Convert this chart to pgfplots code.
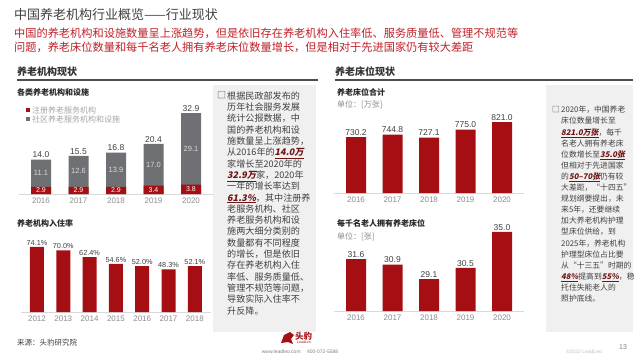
\documentclass[border=0pt]{standalone}
\usepackage{fontspec}
\usepackage{pgfplots}
\usepackage{pgfplotstable}
\pgfplotsset{compat=1.18}
\setmainfont{Noto Sans CJK SC}
\newfontfamily\numfont{Liberation Sans}
\newfontfamily\hlfont[FakeSlant=0.2]{Noto Sans CJK SC}
\newcommand\fs[1]{\fontsize{#1bp}{#1bp}\selectfont}
\definecolor{barred}{RGB}{165,15,20}
\definecolor{bargray}{RGB}{110,112,115}
\definecolor{subred}{RGB}{192,32,40}
\definecolor{txt}{RGB}{64,64,64}
\definecolor{tickgray}{RGB}{140,140,140}
\definecolor{boxgray}{RGB}{240,240,240}
\definecolor{hlred}{RGB}{110,20,20}
\newcommand\hl[1]{{\hlfont\bfseries\color{hlred}\underline{#1}}}

\pgfplotstableread{
x red tot rmid gmid rl gl
0 2.9 14.0 1.45 8.45 2.9 11.1
1 2.9 15.5 1.45 9.20 2.9 12.6
2 2.9 16.8 1.45 9.85 2.9 13.9
3 3.4 20.4 1.70 11.9 3.4 17.0
4 3.8 32.9 1.90 18.35 3.8 29.1
}\dataA
\pgfplotstableread{
x rate
0 74.1
1 70.0
2 62.4
3 54.6
4 52.0
5 48.3
6 52.1
}\dataB
\pgfplotstableread{
x beds
0 730.2
1 744.8
2 727.1
3 775.0
4 821.0
}\dataC
\pgfplotstableread{
x per
0 31.6
1 30.9
2 29.1
3 30.5
4 35.0
}\dataD

\pgfplotsset{
  barax/.style={
    scale only axis, clip=false,
    axis y line=none, axis x line*=bottom,
    x axis line style={draw=gray!30,-},
    xtick=data, xtick style={draw=none},
    ticklabel style={font=\numfont\fs{8}, text=tickgray},
    /pgf/number format/assume math mode=true,
    anchor=south west,
  },
  vlab/.style={nodes near coords={\pgfmathprintnumber[fixed,fixed zerofill,precision=1,assume math mode=true]{\pgfplotspointmeta}},
    every node near coord/.append style={font=\numfont\fs{8.5}, text=txt, anchor=south, inner sep=1.5bp}},
}

\begin{document}
\begin{tikzpicture}[x=1bp,y=1bp]
\path[use as bounding box, fill=white] (0,0) rectangle (641,361);

% titles
\node[anchor=west, inner sep=0, text=txt, font=\fs{13}] at (14,346) {中国养老机构行业概览——行业现状};
\node[anchor=west, inner sep=0, text=subred, font=\fs{11.2}] at (14,328) {中国的养老机构和设施数量呈上涨趋势，但是依旧存在养老机构入住率低、服务质量低、管理不规范等};
\node[anchor=west, inner sep=0, text=subred, font=\fs{11.2}] at (14,314) {问题，养老床位数量和每千名老人拥有养老床位数量增长，但是相对于先进国家仍有较大差距};

% section headers
\node[anchor=west, inner sep=0, text=black!80, font=\fs{10}\bfseries] at (17,289) {养老机构现状};
\draw[line width=1.2bp, black!70] (17,281) -- (318,281);
\node[anchor=west, inner sep=0, text=black!80, font=\fs{10}\bfseries] at (335,289) {养老床位现状};
\draw[line width=1.2bp, black!70] (335,281) -- (633,281);

% grey boxes
\fill[boxgray] (213,29) rectangle (316,276);
\fill[boxgray] (546,29) rectangle (633,276);

% chart titles
\node[anchor=west, inner sep=0, text=black!85, font=\fs{8}\bfseries] at (17,269) {各类养老机构和设施};
\node[anchor=west, inner sep=0, text=black!85, font=\fs{8}\bfseries] at (17,138) {养老机构入住率};
\node[anchor=west, inner sep=0, text=black!85, font=\fs{8}\bfseries] at (337,269) {养老床位合计};
\node[anchor=west, inner sep=0, text=tickgray, font=\fs{8}] at (337,256) {单位：[万张]};
\node[anchor=west, inner sep=0, text=black!85, font=\fs{8}\bfseries] at (337,138) {每千名老人拥有养老床位};
\node[anchor=west, inner sep=0, text=tickgray, font=\fs{8}] at (337,124) {单位：[张]};

% legend chart 1
\fill[barred] (26,249) rectangle (30,253);
\node[anchor=west, inner sep=0, text=gray!70, font=\fs{8}] at (32,251) {注册养老服务机构};
\fill[bargray] (26,240) rectangle (30,244);
\node[anchor=west, inner sep=0, text=gray!70, font=\fs{8}] at (32,242) {社区养老服务机构和设施};

% chart 1
\begin{axis}[barax, at={(18.5bp,167bp)}, width=195bp, height=98.4bp,
  xmin=-0.6, xmax=4.6, ymin=0, ymax=40,
  xticklabels={2016,2017,2018,2019,2020}]
\addplot[ybar, bar width=20bp, bar shift=0pt, fill=bargray, draw=none, vlab, point meta=y] table[x=x,y=tot] \dataA;
\addplot[ybar, bar width=20bp, bar shift=0pt, fill=barred, draw=none] table[x=x,y=red] \dataA;
\addplot[draw=none, mark=none, nodes near coords, point meta=explicit symbolic,
  every node near coord/.style={anchor=center, font=\numfont\fs{7}, text=white, inner sep=0}] table[x=x,y=rmid,meta=rl] \dataA;
\addplot[draw=none, mark=none, nodes near coords, point meta=explicit symbolic,
  every node near coord/.style={anchor=center, font=\numfont\fs{7.5}, text=white!85!black, inner sep=0}] table[x=x,y=gmid,meta=gl] \dataA;
\end{axis}

% chart 2
\begin{axis}[barax, at={(21.2bp,49bp)}, width=189.4bp, height=70.4bp,
  xmin=-0.6, xmax=6.6, ymin=0, ymax=80,
  xticklabels={2012,2013,2014,2015,2016,2017,2018}]
\addplot[ybar, bar width=14bp, bar shift=0pt, fill=barred, draw=none, point meta=y,
  nodes near coords={\pgfmathprintnumber[fixed,fixed zerofill,precision=1,assume math mode=true]{\pgfplotspointmeta}\%},
  every node near coord/.append style={font=\numfont\fs{7.3}, text=txt, anchor=south, inner sep=1.5bp}] table[x=x,y=rate] \dataB;
\end{axis}

% chart 3
\begin{axis}[barax, at={(334.1bp,168bp)}, width=189.8bp, height=77.4bp,
  xmin=-0.6, xmax=4.6, ymin=391, ymax=860,
  xticklabels={2016,2017,2018,2019,2020}]
\addplot[ybar, bar width=20bp, bar shift=0pt, fill=barred, draw=none, vlab, point meta=y] table[x=x,y=beds] \dataC;
\end{axis}

% chart 4
\begin{axis}[barax, at={(334.1bp,50bp)}, width=189.8bp, height=95.2bp,
  xmin=-0.6, xmax=4.6, ymin=25.1, ymax=37,
  xticklabels={2016,2017,2018,2019,2020}]
\addplot[ybar, bar width=20bp, bar shift=0pt, fill=barred, draw=none, vlab, point meta=y] table[x=x,y=per] \dataD;
\end{axis}

% left text box
\node[anchor=north west, inner sep=0, text=txt, font=\fs{9}] at (217,269.5) {□};
\node[anchor=north west, inner sep=0, text=txt, align=left, font={\fontsize{9.1bp}{11.3bp}\selectfont}] at (227,269.5) {%
根据民政部发布的\\
历年社会服务发展\\
统计公报数据，中\\
国的养老机构和设\\
施数量呈上涨趋势，\\
从2016年的\hl{14.0万}\\
家增长至2020年的\\
\hl{32.9万}家，2020年\\
一年的增长率达到\\
\hl{61.3\%}，其中注册养\\
老服务机构、社区\\
养老服务机构和设\\
施两大细分类别的\\
数量都有不同程度\\
的增长，但是依旧\\
存在养老机构入住\\
率低、服务质量低、\\
管理不规范等问题，\\
导致实际入住率不\\
升反降。};

% right text box
\node[anchor=north west, inner sep=0, text=txt, font=\fs{7.8}] at (552,255) {□};
\node[anchor=north west, inner sep=0, text=txt, align=left, font={\fontsize{7.8bp}{11.1bp}\selectfont}] at (561,255) {%
2020年，中国养老\\
床位数量增长至\\
\hl{821.0万张}，每千\\
名老人拥有养老床\\
位数增长至\hl{35.0张}\\
但相对于先进国家\\
的\hl{50–70张}仍有较\\
大差距，“十四五”\\
规划纲要提出，未\\
来5年，还要继续\\
加大养老机构护理\\
型床位供给，到\\
2025年，养老机构\\
护理型床位占比要\\
从“十三五”时期的\\
\hl{48\%}提高到\hl{55\%}，稳\\
托住失能老人的\\
照护底线。};

% footer
\node[anchor=west, inner sep=0, text=txt, font=\fs{7.5}] at (17,18) {来源：头豹研究院};
\fill[barred] (281,18) -- (284,26) -- (290,29) -- (294,26) -- (291,22) -- (293,17) -- (288,19) -- cycle;
\node[anchor=west, inner sep=0, text=barred, font=\fs{8.5}\bfseries] at (295,25) {头豹};
\node[anchor=west, inner sep=0, text=barred, font=\numfont\fs{3.5}] at (297,18.5) {LeadLeo};
\node[anchor=center, inner sep=0, text=gray, font=\numfont\fs{5}] at (300,9) {www.leadleo.com \quad 400-072-5588};
\node[anchor=center, inner sep=0, text=gray!50, font=\numfont\fs{5}] at (584,9) {©2022 LeadLeo};
\node[anchor=center, inner sep=0, text=gray, font=\numfont\fs{7}] at (623,14) {13};
\end{tikzpicture}
\end{document}
